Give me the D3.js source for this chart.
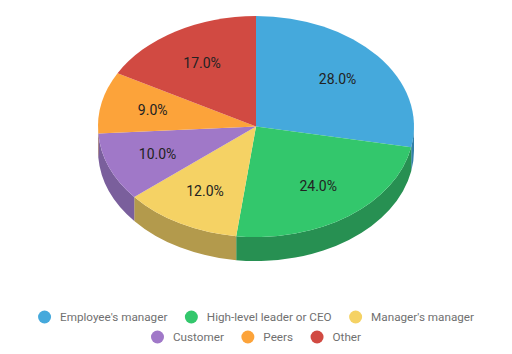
<!DOCTYPE html>
<html lang="en">
<head>
<meta charset="UTF-8">
<title>Pie</title>
<script src="https://d3js.org/d3.v7.min.js"></script>
<style>
  html, body { margin: 0; background: #fff; }
  text { font-family: Roboto, sans-serif; }
</style>
</head>
<body>
<svg id="chart" width="512" height="354"></svg>
<script>
const categories = ["Employee's manager", "High-level leader or CEO", "Manager's manager", "Customer", "Peers", "Other"];
const shares = [28, 24, 12, 10, 9, 17];
const topColors = ["#45a9dc", "#33c76c", "#f5d264", "#a078c8", "#fca33a", "#d14a42"];
const sideColors = ["#3380a8", "#279052", "#b39a4c", "#7a5f9c", "#c07d2c", "#9e3832"];
const legendRows = [[0, 1, 2], [3, 4, 5]];

const cx = 256, cy = 126.5, rx = 158, ry = 110.5, depth = 24;

const svg = d3.select("#chart");
const pie = d3.pie().value(d => d).sort(null)(shares);

const arc = d3.arc().innerRadius(0).outerRadius(rx);
const labelArc = d3.arc().innerRadius(rx * 0.67).outerRadius(rx * 0.67);

// side wall, only the front half of the ellipse (pie angle 90deg to 270deg)
function sidePath(d) {
  const a0 = Math.max(d.startAngle, Math.PI / 2);
  const a1 = Math.min(d.endAngle, Math.PI * 1.5);
  if (a1 <= a0) return null;
  const x0 = cx + rx * Math.sin(a0), y0 = cy - ry * Math.cos(a0);
  const x1 = cx + rx * Math.sin(a1), y1 = cy - ry * Math.cos(a1);
  return `M${x0},${y0}A${rx},${ry} 0 0 1 ${x1},${y1}` +
    `L${x1},${y1 + depth}A${rx},${ry} 0 0 0 ${x0},${y0 + depth}Z`;
}

svg.append("g").selectAll("path")
  .data(pie.filter(sidePath))
  .enter().append("path")
  .attr("d", sidePath)
  .attr("fill", d => sideColors[d.index]);

svg.append("g")
  .attr("transform", `translate(${cx},${cy}) scale(1,${ry / rx})`)
  .selectAll("path")
  .data(pie)
  .enter().append("path")
  .attr("d", arc)
  .attr("fill", d => topColors[d.index]);

svg.append("g").selectAll("text")
  .data(pie)
  .enter().append("text")
  .attr("x", d => cx + labelArc.centroid(d)[0])
  .attr("y", d => cy + labelArc.centroid(d)[1] * ry / rx)
  .attr("dy", "0.35em")
  .attr("text-anchor", "middle")
  .attr("font-size", 14)
  .attr("fill", "#222")
  .text(d => d.data.toFixed(1) + "%");

// legend rows, centred, laid out from the measured text widths
const rowY = [317, 337];
legendRows.forEach((row, r) => {
  const g = svg.append("g");
  let x = 0;
  row.forEach(i => {
    const item = g.append("g").attr("transform", `translate(${x},${rowY[r]})`);
    item.append("circle").attr("cx", 6.5).attr("r", 6.5).attr("fill", topColors[i]);
    const t = item.append("text")
      .attr("x", 22)
      .attr("dy", "0.35em")
      .attr("font-size", 11.7)
      .attr("fill", "#707070")
      .text(categories[i]);
    x += 22 + t.node().getComputedTextLength() + 17.5;
  });
  const w = x - 17.5;
  g.attr("transform", `translate(${(512 - w) / 2},0)`);
});
</script>
</body>
</html>
